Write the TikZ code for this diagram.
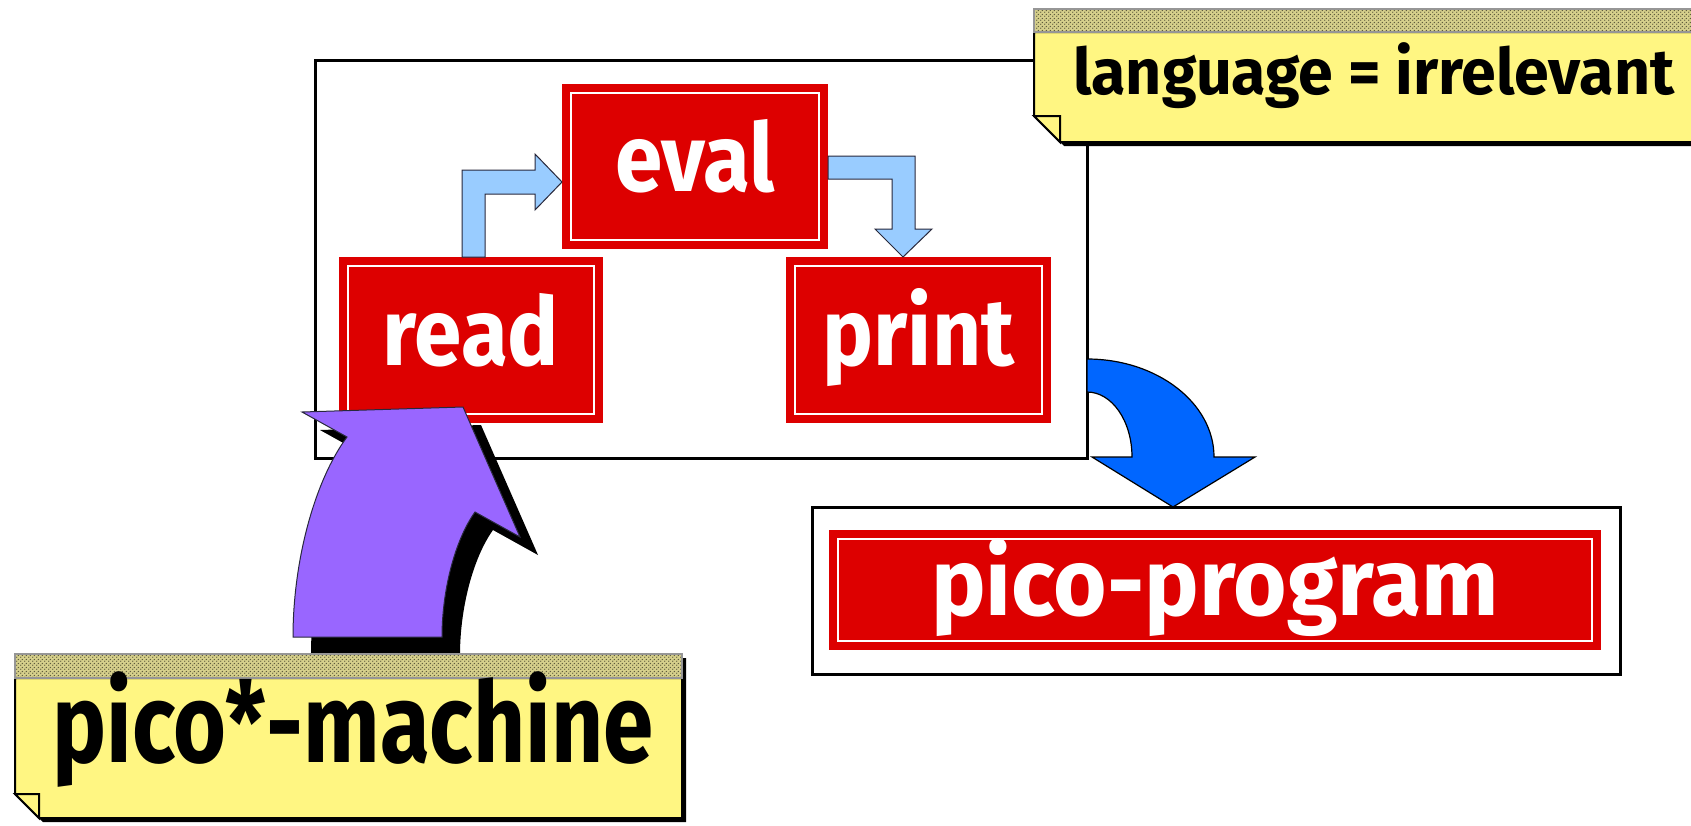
\documentclass[tikz,border=0pt]{standalone}
\usepackage{fontspec}
\setmainfont{Fira Sans}[FakeStretch=0.9]
\newfontfamily\boxfont{Fira Sans}[FakeStretch=0.9]
\newfontfamily\programfont{Fira Sans}[FakeStretch=0.965]
\newfontfamily\langfont{Fira Sans}[FakeStretch=0.98]
\newfontfamily\machinefont{Fira Sans}[FakeStretch=0.81]
\usetikzlibrary{patterns,calc}

\definecolor{boxred}{RGB}{221,0,0}
\definecolor{arrowpale}{RGB}{153,204,255}
\definecolor{arrowblue}{RGB}{0,102,255}
\definecolor{arrowviolet}{RGB}{153,102,255}
\definecolor{notepaper}{RGB}{255,246,130}
\definecolor{notestrip}{RGB}{214,208,140}
\definecolor{stripdots}{RGB}{95,92,60}
\definecolor{edgegrey}{RGB}{150,150,150}
\definecolor{outlinedark}{RGB}{40,40,60}

% small dot raster for the header strip of the sticky notes
\pgfdeclarepatternformonly{notedots}{\pgfpointorigin}{\pgfqpoint{4pt}{4pt}}{\pgfqpoint{4pt}{4pt}}{%
  \pgfpathcircle{\pgfqpoint{1pt}{1pt}}{0.85pt}%
  \pgfpathcircle{\pgfqpoint{3pt}{3pt}}{0.85pt}%
  \pgfusepath{fill}}

\begin{document}
\begin{tikzpicture}[x=1pt,y=-1pt,
  frame/.style={rectangle, draw=black, line width=3pt, fill=white, inner sep=0pt, outer sep=0pt},
  redbox/.style={rectangle, fill=boxred, draw=white, line width=2pt,
    preaction={draw=boxred, line width=18pt},
    text=white, inner sep=0pt, outer sep=9pt,
    font=\boxfont\bfseries\fontsize{95}{95}\selectfont, text height=50pt, text depth=0pt},
  palearrow/.style={fill=arrowpale, draw=outlinedark, line width=1pt, line join=miter},
  bigarrow/.style={fill=arrowblue, draw=black, line width=1.2pt, line join=miter},
  notebody/.style={fill=notepaper, draw=black, line width=2pt, line join=miter},
  notestripe/.style={preaction={fill=notestrip}, pattern=notedots, pattern color=stripdots,
    draw=edgegrey, line width=1.5pt},
  langtext/.style={text=black, inner sep=0pt, font=\langfont\bfseries\fontsize{64}{64}\selectfont},
  machinetext/.style={text=black, inner sep=0pt, font=\machinefont\bfseries\fontsize{112}{112}\selectfont},
  liftarrow/.pic={
    \path[pic actions] (293,637) -- (442,637)
      .. controls (442,590) and (455,540) .. (475,512)
      -- (520,537) -- (463,407) -- (302,412) -- (347,437)
      .. controls (315,480) and (293,560) .. (293,637) -- cycle;
  }
]
\useasboundingbox (0,0) rectangle (1691,825);

% read-eval-print machine
\node[frame, minimum width=772pt, minimum height=398pt] (repl) at (701,259) {};
\node[redbox, minimum width=248pt, minimum height=147pt] (eval) at (695,166.5) {eval};
\node[redbox, minimum width=246pt, minimum height=148pt] (read) at (471,340) {read};
\node[redbox, minimum width=247pt, minimum height=148pt] (print) at (918.5,340) {print};

% program box
\node[frame, minimum width=808pt, minimum height=167pt] (progframe) at (1216,590.5) {};
\node[redbox, minimum width=754pt, minimum height=102pt,
  font=\programfont\bfseries\fontsize{95}{95}\selectfont] (program) at (1215,590) {pico-program};

% read -> eval
\draw[palearrow] (read.north -| 462,0) -- (462,170) -- (535,170) -- (535,154)
  -- (eval.west |- 0,182) -- (535,210) -- (535,194) -- (485,194)
  -- (read.north -| 485,0) -- cycle;
% eval -> print
\draw[palearrow] (eval.east |- 0,156) -- (915,156) -- (915,229) -- (932,229)
  -- (print.north -| 903,0) -- (875,229) -- (892,229) -- (892,179)
  -- (eval.east |- 0,179) -- cycle;

% machine -> program
\draw[bigarrow] (repl.east |- 0,359) .. controls (1157,359) and (1214,403) .. (1214,457)
  -- (1255,457) -- (progframe.north -| 1173,0) -- (1092,457) -- (1132,457)
  .. controls (1132,421) and (1112,392) .. (repl.east |- 0,392) -- cycle;

% lifting arrow with its drop shadow
\pic[fill=black] at (18,18) {liftarrow};
\pic[fill=arrowviolet, draw=outlinedark, line width=1pt, line join=miter] at (0,0) {liftarrow};

% sticky note: language
\fill[black] (1038,13) -- (1706,13) -- (1706,146) -- (1064,146) -- (1038,120) -- cycle;
\draw[notebody] (1034,32) -- (1706,32) -- (1706,142) -- (1060,142) -- (1034,116) -- cycle;
\draw[notebody] (1034,116) -- (1060,116) -- (1060,142) -- cycle;
\draw[notestripe] (1034,9) rectangle (1706,32);
\node[langtext, anchor=base west] (langnote) at (1073,94) {language = irrelevant};

% sticky note: machine
\fill[black] (19,658) -- (686,658) -- (686,822) -- (43,822) -- (19,798) -- cycle;
\draw[notebody] (15,678) -- (682,678) -- (682,818) -- (39,818) -- (15,794) -- cycle;
\draw[notebody] (15,794) -- (39,794) -- (39,818) -- cycle;
\draw[notestripe] (15,654) rectangle (682,678);
\node[machinetext, anchor=base] (machinenote) at (353,762) {pico*-machine};
\end{tikzpicture}
\end{document}
